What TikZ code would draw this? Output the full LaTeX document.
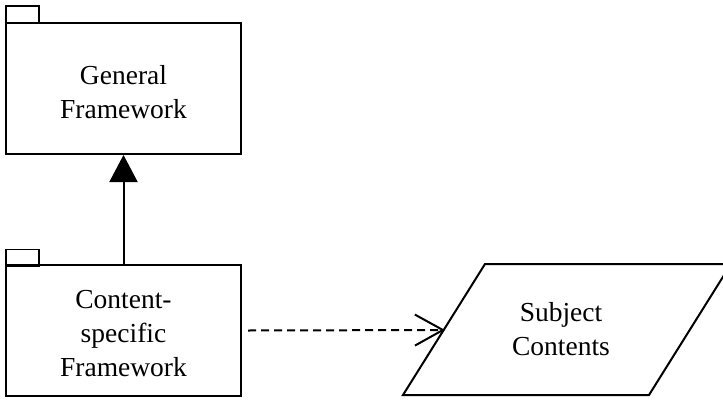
\documentclass[tikz,border=0pt]{standalone}
\usepackage{fontspec}
\setmainfont{Liberation Serif}
\usetikzlibrary{arrows.meta}
\begin{document}
\begin{tikzpicture}[x=1pt,y=-1pt,
  line width=2pt,
  pkgbody/.style={draw,rectangle,minimum width=235pt,minimum height=131pt,inner sep=0pt},
  pkgtab/.style={draw,rectangle,minimum width=33pt,minimum height=17pt,inner sep=0pt,line width=1.4pt},
  lbl/.style={align=center,inner sep=0pt,font=\fontsize{27.5}{34}\selectfont},
  gen/.style={-{Triangle[length=27pt,width=28pt]}},
  dep/.style={dashed,dash pattern=on 8pt off 5pt,-{Straight Barb[length=28pt,width=31pt,line width=2pt]}}]
\useasboundingbox (0,0) rectangle (723,399);
\begin{scope}
\clip (0,0) rectangle (723,399);
% top package
\node[pkgtab] (gtab) at (22.5,14.5) {};
\node[pkgbody] (gen) at (123.5,88.5) {};
\node[lbl] (genlbl) at (123.5,92) {General\\Framework};
% bottom package
\node[pkgtab] (ctab) at (22.5,258) {};
\node[pkgbody] (csf) at (123.5,330.5) {};
\node[lbl] (csflbl) at (123.5,334) {Content-\\specific\\Framework};
% parallelogram
\draw (485,264) -- (731,264) -- (649,395) -- (403,395) -- cycle;
\node[lbl] (subj) at (561,329) {Subject\\Contents};
\coordinate (subjin) at (445,330);
% connectors
\draw[gen] (csf.north) -- (gen.south);
\draw[dep] ([xshift=6pt]csf.east) -- (subjin);
\end{scope}
\end{tikzpicture}
\end{document}
